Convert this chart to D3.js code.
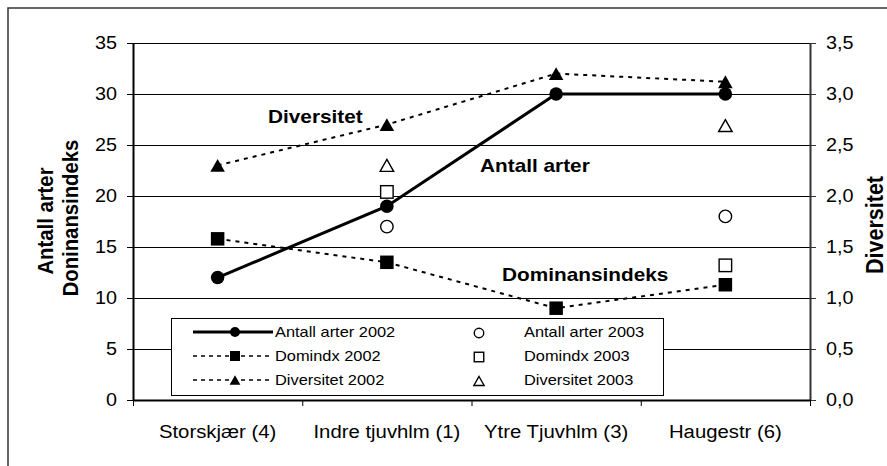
<!DOCTYPE html>
<html>
<head>
<meta charset="utf-8">
<script src="https://cdn.jsdelivr.net/npm/d3@7/dist/d3.min.js"></script>
<style>
  html, body { margin: 0; padding: 0; background: #fff; }
  svg { display: block; font-family: "Liberation Sans", Arial, sans-serif; }
</style>
</head>
<body>
<svg id="chart" width="887" height="466"></svg>
<script>
// ---- data ----
const categories = ["Storskjær (4)", "Indre tjuvhlm (1)", "Ytre Tjuvhlm (3)", "Haugestr (6)"];
const antall2002 = [12, 19, 30, 30];
const domindx2002 = [15.8, 13.5, 9.0, 11.3];
const diversitet2002 = [2.3, 2.7, 3.2, 3.12];
const antall2003 = [null, 17, null, 18];
const domindx2003 = [null, 20.4, null, 13.2];
const diversitet2003 = [null, 2.3, null, 2.69];
const leftTicks = [0, 5, 10, 15, 20, 25, 30, 35];
const rightTicks = [0, 0.5, 1.0, 1.5, 2.0, 2.5, 3.0, 3.5];
const rightTickLabels = ["0,0", "0,5", "1,0", "1,5", "2,0", "2,5", "3,0", "3,5"];
const legendItems2002 = ["Antall arter 2002", "Domindx 2002", "Diversitet 2002"];
const legendItems2003 = ["Antall arter 2003", "Domindx 2003", "Diversitet 2003"];
const leftTitle = ["Antall arter", "Doninansindeks"];
const rightTitle = "Diversitet";
const annotations = ["Diversitet", "Antall arter", "Dominansindeks"];

// ---- layout ----
const SX = 1.13; // horizontal stretch of the original picture
const plot = { left: 133, right: 810, top: 43, bottom: 400 };
const svg = d3.select("#chart");

// outer frame
svg.append("rect").attr("x", 8).attr("y", 8).attr("width", 900).attr("height", 500)
  .attr("fill", "#fff").attr("stroke", "#333").attr("stroke-width", 1.5);

const x = d3.scaleBand().domain(categories).range([plot.left, plot.right]).padding(0);
const yL = d3.scaleLinear().domain([0, 35]).range([plot.bottom, plot.top]);
const yR = d3.scaleLinear().domain([0, 3.5]).range([plot.bottom, plot.top]);
const cx = c => x(c) + x.bandwidth() / 2;

function stext(g, tx, ty, str, opts) {
  opts = opts || {};
  const t = g.append("text")
    .attr("transform", `translate(${tx},${ty}) scale(${SX},1)` + (opts.rotate ? ` rotate(${opts.rotate})` : ""))
    .attr("font-size", opts.size || 17.5)
    .attr("font-weight", opts.bold ? "bold" : "normal")
    .attr("text-anchor", opts.anchor || "start")
    .attr("fill", "#000")
    .text(str);
  if (opts.dy) t.attr("dy", opts.dy);
  return t;
}

// gridlines
svg.append("g").selectAll("line").data(leftTicks.filter(d => d > 0)).join("line")
  .attr("x1", plot.left).attr("x2", plot.right)
  .attr("y1", d => Math.round(yL(d)) + 0.5).attr("y2", d => Math.round(yL(d)) + 0.5)
  .attr("stroke", "#000").attr("stroke-width", 1);

// left axis
const gL = svg.append("g").attr("transform", `translate(${plot.left},0)`)
  .call(d3.axisLeft(yL).tickValues(leftTicks).tickSize(6).tickSizeOuter(0).tickFormat(""));
gL.select(".domain").attr("stroke", "#000").attr("stroke-width", 2);
gL.selectAll(".tick line").attr("stroke", "#000").attr("stroke-width", 1);
leftTicks.forEach(v => stext(svg, plot.left - 16, yL(v) + 6.3, String(v), { anchor: "end" }));

// right axis
const gR = svg.append("g").attr("transform", `translate(${plot.right},0)`)
  .call(d3.axisRight(yR).tickValues(rightTicks).tickSize(6).tickSizeOuter(0).tickFormat(""));
gR.select(".domain").attr("stroke", "#333").attr("stroke-width", 2);
gR.selectAll(".tick line").attr("stroke", "#333").attr("stroke-width", 1);
rightTicks.forEach((v, i) => stext(svg, plot.right + 16, yR(v) + 6.3, rightTickLabels[i]));

// bottom axis
const boundaries = categories.map(c => x(c)).concat([plot.right]);
const xb = d3.scaleLinear().domain([plot.left, plot.right]).range([plot.left, plot.right]);
const gB = svg.append("g").attr("transform", `translate(0,${plot.bottom})`)
  .call(d3.axisBottom(xb).tickValues(boundaries).tickSize(6).tickSizeOuter(0).tickFormat(""));
gB.select(".domain").attr("stroke", "#000").attr("stroke-width", 2);
gB.selectAll(".tick line").attr("stroke", "#000").attr("stroke-width", 1);
categories.forEach(c => stext(svg, cx(c), 438, c, { anchor: "middle", size: 18 }));

// axis titles
stext(svg, 53, 221, leftTitle[0], { rotate: -90, bold: true, size: 20.3, anchor: "middle" });
stext(svg, 78, 218, leftTitle[1], { rotate: -90, bold: true, size: 20.3, anchor: "middle" });
stext(svg, 883, 225, rightTitle, { rotate: -90, bold: true, size: 21.5, anchor: "middle" });

// markers
function marker(g, type, px, py, size, filled) {
  const sw = filled ? 0 : 1.4;
  const fill = filled ? "#000" : "#fff";
  if (type === "circle") {
    g.append("circle").attr("cx", px).attr("cy", py).attr("r", size / 2)
      .attr("fill", fill).attr("stroke", "#000").attr("stroke-width", sw);
  } else if (type === "square") {
    g.append("rect").attr("x", px - size / 2).attr("y", py - size / 2).attr("width", size).attr("height", size)
      .attr("fill", fill).attr("stroke", "#000").attr("stroke-width", sw);
  } else {
    const w = size * 1.08, h = size * 0.95;
    g.append("path").attr("d", `M${px},${py - h / 2}L${px + w / 2},${py + h / 2}L${px - w / 2},${py + h / 2}Z`)
      .attr("fill", fill).attr("stroke", "#000").attr("stroke-width", sw).attr("stroke-linejoin", "miter");
  }
}

const series2002 = [
  { vals: antall2002, y: yL, type: "circle", dash: null, width: 3 },
  { vals: domindx2002, y: yL, type: "square", dash: "4,5", width: 2 },
  { vals: diversitet2002, y: yR, type: "triangle", dash: "4,5", width: 2 }
];
const series2003 = [
  { vals: antall2003, y: yL, type: "circle" },
  { vals: domindx2003, y: yL, type: "square" },
  { vals: diversitet2003, y: yR, type: "triangle" }
];

const gLines = svg.append("g");
series2002.slice().reverse().forEach(s => {
  const line = d3.line().x((d, i) => cx(categories[i])).y(d => s.y(d));
  gLines.append("path").attr("d", line(s.vals)).attr("fill", "none")
    .attr("stroke", "#000").attr("stroke-width", s.width)
    .attr("stroke-dasharray", s.dash);
});
series2002.slice().reverse().forEach(s => {
  s.vals.forEach((v, i) => marker(gLines, s.type, cx(categories[i]), s.y(v), 13.5, true));
});
series2003.forEach(s => {
  s.vals.forEach((v, i) => { if (v != null) marker(gLines, s.type, cx(categories[i]), s.y(v), 12.5, false); });
});

// annotations
stext(svg, 268, 123, annotations[0], { bold: true, size: 18.4 });
stext(svg, 480, 172, annotations[1], { bold: true, size: 18.4 });
stext(svg, 502, 281, annotations[2], { bold: true, size: 18.4 });

// legend
const lg = svg.append("g");
lg.append("rect").attr("x", 171.5).attr("y", 318.5).attr("width", 492).attr("height", 77)
  .attr("fill", "#fff").attr("stroke", "#000").attr("stroke-width", 1);
const rowY = [332, 356, 380];
series2002.forEach((s, i) => {
  lg.append("line").attr("x1", 193).attr("x2", 273).attr("y1", rowY[i]).attr("y2", rowY[i])
    .attr("stroke", "#000").attr("stroke-width", s.dash ? 1.5 : 3).attr("stroke-dasharray", s.dash ? "4,4" : null);
  marker(lg, s.type, 235, rowY[i], 10, true);
  stext(lg, 275, rowY[i] + 5, legendItems2002[i], { size: 14.5 });
});
series2003.forEach((s, i) => {
  marker(lg, s.type, 479, rowY[i] + 1, 9.5, false);
  stext(lg, 524, rowY[i] + 5, legendItems2003[i], { size: 14.5 });
});
</script>
</body>
</html>
